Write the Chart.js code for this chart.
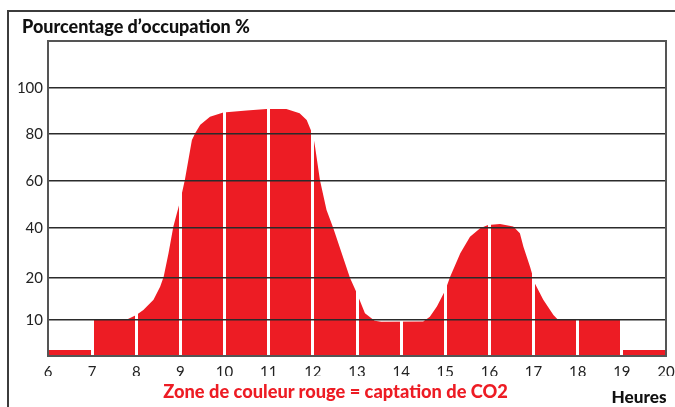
<!DOCTYPE html>
<html>
<head>
<meta charset="utf-8">
<script src="https://cdn.jsdelivr.net/npm/chart.js@4/dist/chart.umd.min.js"></script>
<style>
  html, body { margin: 0; padding: 0; background: #fff; overflow: hidden; }
  #wrap { position: relative; width: 675px; height: 407px; overflow: hidden; background: #fff; }
  #frame { position: absolute; left: 7px; top: 10px; width: 680px; height: 420px;
           border-top: 2px solid #3c3c3c; border-left: 2px solid #3c3c3c; border-right: 0; border-bottom: 0; }
  canvas { position: absolute; left: 0; top: 0; }
  .txt { position: absolute; white-space: nowrap; line-height: 1; font-family: Lato, "DejaVu Sans", sans-serif; font-weight: 900; }
  #title { left: 22px; color: #111; }
  #note { color: #ED1C24; }
  #xtitle { color: #111; }
</style>
</head>
<body>
<div id="wrap">
  <div id="frame"></div>
  <canvas id="c" width="675" height="407"></canvas>
  <div class="txt" id="title">Pourcentage d’occupation %</div>
  <div class="txt" id="note">Zone de couleur rouge = captation de CO2</div>
  <div class="txt" id="xtitle">Heures</div>
</div>
<script>
// ---- data ----
const hours = [6, 7, 7, 7.63, 7.8, 8, 8.16, 8.39, 8.54, 8.62, 8.73, 8.84, 9, 9.1, 9.26, 9.34, 9.45, 9.67, 9.97, 10.5, 10.95, 11.4, 11.7, 11.86, 11.97, 12, 12.05, 12.16, 12.31, 12.46, 12.84, 13, 13.18, 13.4, 13.55, 14.5, 14.65, 14.81, 15, 15.11, 15.34, 15.56, 15.79, 15.97, 16.24, 16.54, 16.69, 16.77, 16.92, 17.03, 17.22, 17.45, 17.56, 19, 19, 20];
const occupation = [1.7, 1.7, 10, 10, 10.2, 11.2, 12.4, 14.8, 17.9, 20.5, 29.9, 40.6, 51.9, 60.4, 77.4, 80.5, 84, 87.5, 89.3, 90.2, 90.9, 90.9, 89.0, 86.1, 81.0, 80, 74.6, 60.4, 47.7, 40.1, 20.1, 16.3, 11.6, 9.8, 9.5, 9.6, 10.8, 13.2, 17.1, 20.5, 29.9, 36.5, 39.9, 41.3, 41.7, 40.6, 37.9, 32.5, 24.5, 18.7, 14.8, 11.2, 10, 10, 1.7, 1.7];
const yTicks = [10, 20, 40, 60, 80, 100];
const xTicks = [6, 7, 8, 9, 10, 11, 12, 13, 14, 15, 16, 17, 18, 19, 20];

// ---- fit overlay texts to the widths seen in the reference ----
function fitText(id, targetWidth, left, baseline, centerX, rightX) {
  const el = document.getElementById(id);
  const cs = getComputedStyle(el);
  const m = document.createElement('canvas').getContext('2d');
  m.font = `${cs.fontWeight} 100px ${cs.fontFamily}`;
  const w = m.measureText(el.textContent).width;
  const size = 100 * targetWidth / w;
  el.style.fontSize = size.toFixed(2) + 'px';
  m.font = `${cs.fontWeight} ${size}px ${cs.fontFamily}`;
  const mt = m.measureText('H');
  const asc = mt.fontBoundingBoxAscent || size * 0.99;
  const desc = mt.fontBoundingBoxDescent || size * 0.21;
  const half = (size - (asc + desc)) / 2;
  el.style.top = (baseline - half - asc).toFixed(2) + 'px';
  if (centerX != null) el.style.left = (centerX - targetWidth / 2).toFixed(2) + 'px';
  else if (rightX != null) el.style.left = (rightX - targetWidth).toFixed(2) + 'px';
  else el.style.left = left + 'px';
}
fitText('title', 228, 22, 33.3);
fitText('note', 345, null, 398.3, 335.8);
fitText('xtitle', 55, null, 403.3, null, 666.5);

// ---- non-linear vertical axis as printed in the reference ----
const KNOT_VALUES = [0, 10, 20, 40, 60, 80, 100, 120];
const KNOT_FRACS  = [0, 0.1143, 0.2476, 0.4063, 0.5556, 0.7048, 0.8508, 1];
function interp(x, xs, ys) {
  const n = xs.length - 1;
  let i = 1;
  while (i < n && x > xs[i]) i++;
  return ys[i - 1] + (x - xs[i - 1]) * (ys[i] - ys[i - 1]) / (xs[i] - xs[i - 1]);
}
class PiecewiseScale extends Chart.LinearScale {
  getPixelForValue(v) { return this.getPixelForDecimal(interp(v, KNOT_VALUES, KNOT_FRACS)); }
  getValueForPixel(p) { return interp(this.getDecimalForPixel(p), KNOT_FRACS, KNOT_VALUES); }
}
PiecewiseScale.id = 'piecewise';
PiecewiseScale.defaults = Chart.LinearScale.defaults;
Chart.register(PiecewiseScale);

const plotFrame = {
  id: 'plotFrame',
  afterDraw(chart) {
    const { ctx, chartArea: a } = chart;
    ctx.save();
    ctx.strokeStyle = '#555';
    ctx.lineWidth = 2;
    ctx.strokeRect(a.left, a.top, a.right - a.left, a.bottom - a.top);
    ctx.restore();
  }
};

const RED = '#ED1C24';
new Chart(document.getElementById('c'), {
  type: 'line',
  data: {
    datasets: [{
      data: hours.map((h, i) => ({ x: h, y: occupation[i] })),
      backgroundColor: RED,
      borderColor: RED,
      borderWidth: 0,
      pointRadius: 0,
      tension: 0,
      fill: 'start'
    }]
  },
  options: {
    responsive: false,
    animation: false,
    events: [],
    layout: { padding: { left: 0, top: 41, right: 9, bottom: 31 } },
    plugins: { legend: { display: false }, tooltip: { enabled: false }, title: { display: false } },
    scales: {
      x: {
        type: 'linear', min: 6, max: 20,
        afterBuildTicks: s => { s.ticks = xTicks.map(v => ({ value: v })); },
        afterFit: s => { s.height = 20; s.paddingLeft = 0; s.paddingRight = 0; },
        grid: {
          z: 1,
          drawTicks: false,
          lineWidth: 3,
          color: c => (c.tick && (c.tick.value === 6 || c.tick.value === 20)) ? 'rgba(0,0,0,0)' : '#ffffff'
        },
        border: { display: false },
        ticks: { autoSkip: false, maxRotation: 0, padding: 7, color: '#222',
                 font: { family: 'Lato', size: 15 }, callback: v => String(v) }
      },
      y: {
        type: 'piecewise', min: 0, max: 120,
        afterBuildTicks: s => { s.ticks = yTicks.map(v => ({ value: v })); },
        afterFit: s => { s.width = 48; s.paddingTop = 0; s.paddingBottom = 0; },
        grid: { z: 2, drawTicks: false, lineWidth: 1.5, color: '#2b2b2b' },
        border: { display: false },
        ticks: { padding: 5, color: '#222', font: { family: 'Lato', size: 15 }, callback: v => String(v) }
      }
    }
  },
  plugins: [plotFrame]
});
</script>
</body>
</html>
